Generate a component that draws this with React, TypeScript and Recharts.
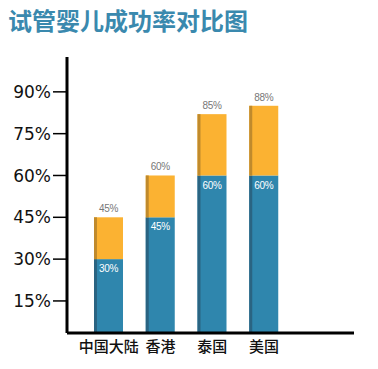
import { BarChart, Bar, XAxis, YAxis, LabelList } from "recharts";

const BLUE = "#2f86ad";
const BLUE_EDGE = "#2a6482";
const ORANGE = "#fbb232";
const ORANGE_EDGE = "#c08a2c";

const regions = ["中国大陆", "香港", "泰国", "美国"];
const baseRate = [30, 45, 60, 60];
const topRate = [45, 60, 82, 85];
const topLabel = ["45%", "60%", "85%", "88%"];
const yTicks = [15, 30, 45, 60, 75, 90];

const data = regions.map((name, i) => ({
  name,
  base: baseRate[i],
  extra: topRate[i] - baseRate[i],
  label: topLabel[i],
}));

function EdgeBar(edge: string) {
  return (props: any) => {
    const { x, y, width, height, fill } = props;
    if (!height || height <= 0) return <g />;
    return (
      <g>
        <rect x={x} y={y} width={width} height={height} fill={fill} />
        <rect x={x} y={y} width={3} height={height} fill={edge} />
      </g>
    );
  };
}

const labelFont = { fontFamily: "'Liberation Sans', sans-serif", fontSize: 10, letterSpacing: -0.4 };

export default function App() {
  return (
    <div style={{ position: "absolute", left: 0, top: 0, width: 378, height: 369, background: "#fff" }}>
      <div
        style={{
          position: "absolute",
          left: 8,
          top: 4,
          lineHeight: "32px",
          fontSize: 24,
          fontWeight: 700,
          color: "#3a89ae",
          fontFamily: "'Noto Sans CJK SC', sans-serif",
          whiteSpace: "nowrap",
        }}
      >
        试管婴儿成功率对比图
      </div>
      <BarChart
        width={378}
        height={369}
        data={data}
        margin={{ top: 57, right: 24, left: 0, bottom: 0 }}
        style={{ position: "absolute", left: 0, top: 0 }}
      >
        <XAxis
          dataKey="name"
          height={36}
          padding={{ left: 16, right: 64 }}
          tickLine={false}
          axisLine={{ stroke: "#000", strokeWidth: 3 }}
          tick={{ fill: "#111", fontSize: 15, fontFamily: "'Noto Sans CJK SC', sans-serif", fontWeight: 500 }}
        />
        <YAxis
          width={67}
          type="number"
          domain={[3.5, 102.5]}
          allowDataOverflow
          ticks={yTicks}
          tickFormatter={(v) => `${v}%`}
          tickSize={14}
          tickLine={{ stroke: "#000", strokeWidth: 1.5 }}
          axisLine={{ stroke: "#000", strokeWidth: 3 }}
          tick={{ fill: "#111", fontSize: 17, fontFamily: "'DejaVu Sans', sans-serif" }}
        />
        <Bar dataKey="base" stackId="a" fill={BLUE} barSize={29} shape={EdgeBar(BLUE_EDGE)} isAnimationActive={false}>
          <LabelList
            dataKey="base"
            position="insideTop"
            offset={6}
            formatter={(v: any) => `${v}%`}
            fill="#fff"
            style={labelFont}
          />
        </Bar>
        <Bar dataKey="extra" stackId="a" fill={ORANGE} barSize={29} shape={EdgeBar(ORANGE_EDGE)} isAnimationActive={false}>
          <LabelList dataKey="label" position="top" offset={5} fill="#777" style={labelFont} />
        </Bar>
      </BarChart>
    </div>
  );
}
